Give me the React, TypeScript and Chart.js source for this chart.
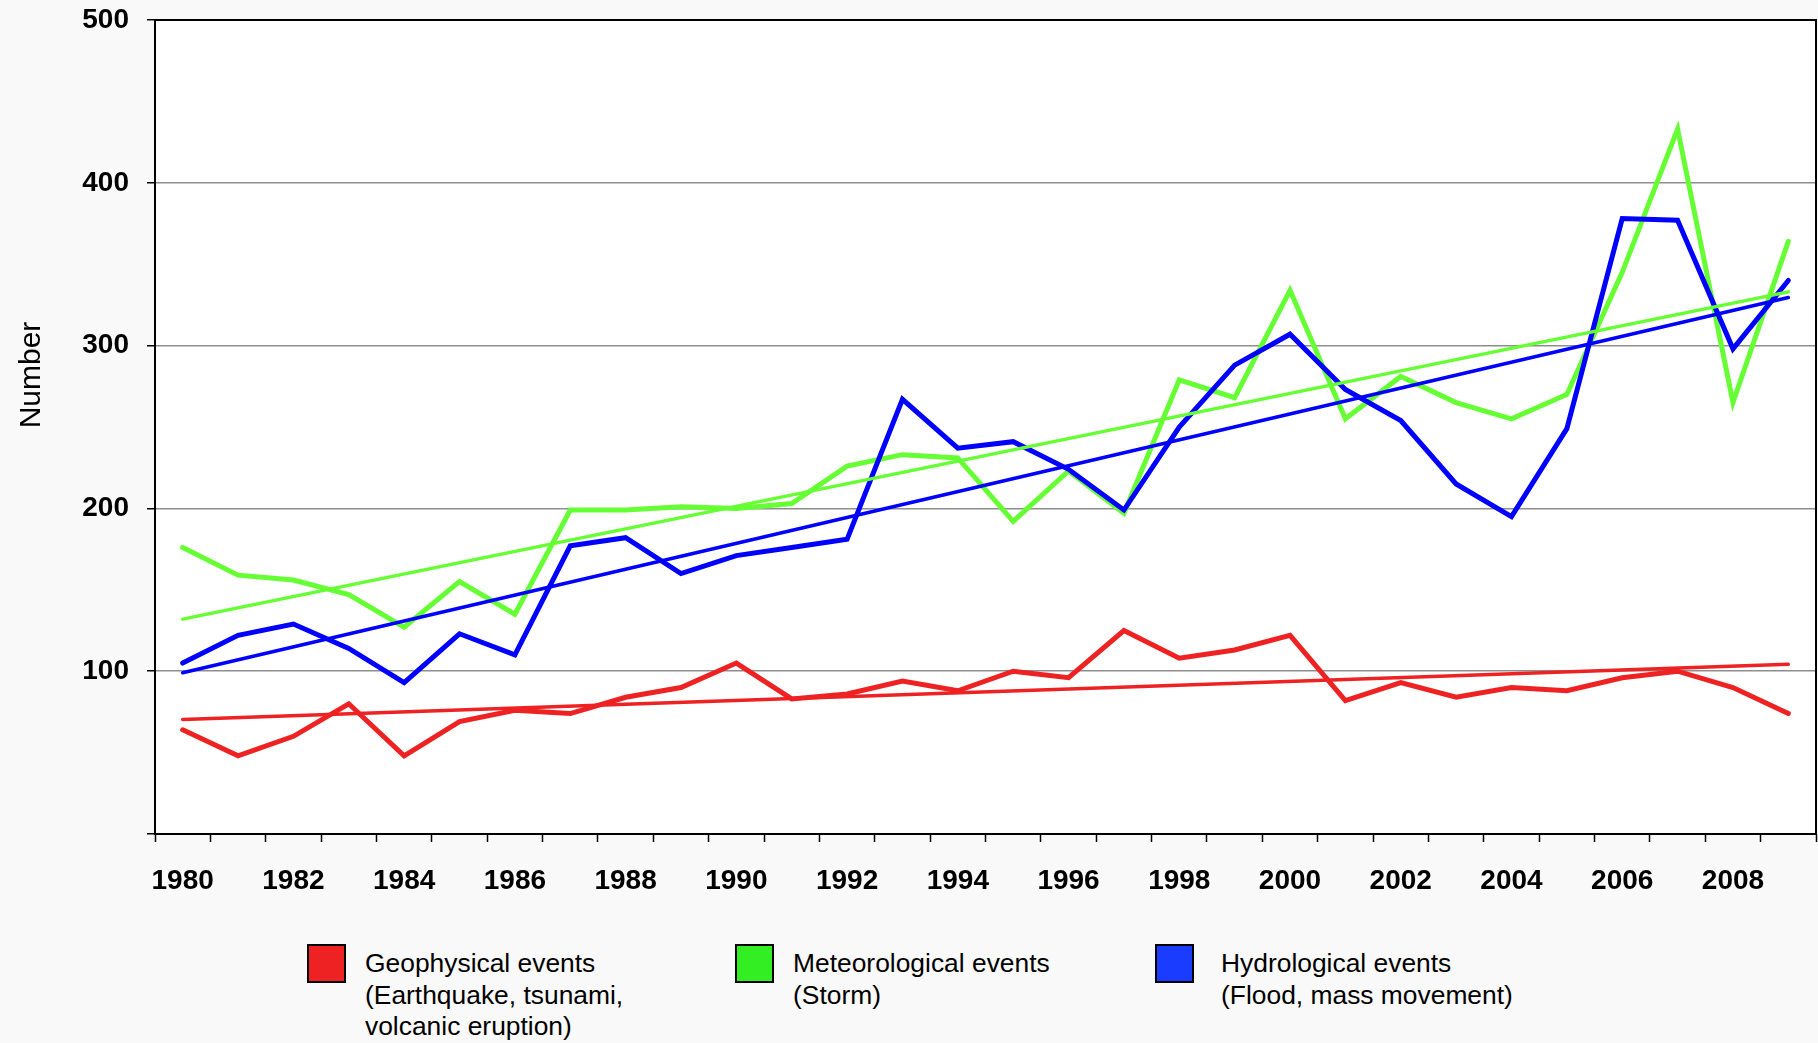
import { useEffect, useRef } from 'react';
import { Chart, registerables } from 'chart.js';

Chart.register(...registerables);

const years = [
  '1980', '1981', '1982', '1983', '1984', '1985', '1986', '1987', '1988', '1989',
  '1990', '1991', '1992', '1993', '1994', '1995', '1996', '1997', '1998', '1999',
  '2000', '2001', '2002', '2003', '2004', '2005', '2006', '2007', '2008', '2009',
];

const shownYearLabels = [
  '1980', '1982', '1984', '1986', '1988', '1990', '1992', '1994',
  '1996', '1998', '2000', '2002', '2004', '2006', '2008',
];

const geophysical = [
  64, 48, 60, 80, 48, 69, 76, 74, 84, 90,
  105, 83, 86, 94, 88, 100, 96, 125, 108, 113,
  122, 82, 93, 84, 90, 88, 96, 100, 90, 74,
];

const meteorological = [
  176, 159, 156, 147, 127, 155, 135, 199, 199, 201,
  200, 203, 226, 233, 231, 192, 223, 197, 279, 268,
  334, 255, 281, 265, 255, 270, 345, 433, 265, 364,
];

const hydrological = [
  105, 122, 129, 114, 93, 123, 110, 177, 182, 160,
  171, 176, 181, 267, 237, 241, 224, 199, 250, 288,
  307, 273, 254, 215, 195, 249, 378, 377, 298, 340,
];

// Trend lines: start (1980) and end (2009) values
const geophysicalTrend = [70.4, 104.3];
const meteorologicalTrend = [132, 333];
const hydrologicalTrend = [99, 329.5];

const yTickValues = [0, 100, 200, 300, 400, 500];
const yAxisTitle = 'Number';

const legendItems = [
  { color: '#ee2222', lines: ['Geophysical events', '(Earthquake, tsunami,', 'volcanic eruption)'] },
  { color: '#33ee22', lines: ['Meteorological events', '(Storm)'] },
  { color: '#1a3cff', lines: ['Hydrological events', '(Flood, mass movement)'] },
];

const RED = '#ee2222';
const GREEN = '#66ff33';
const BLUE = '#0000ff';
const FONT = "'Liberation Sans', Arial, Helvetica, sans-serif";

function trendSeries(pair: number[]) {
  return years.map((_, i) => (i === 0 ? pair[0] : i === years.length - 1 ? pair[1] : null));
}

const legendBoxLeft = [307, 735, 1155];
const legendTextLeft = [365, 793, 1221];

export default function App() {
  const canvasRef = useRef<HTMLCanvasElement | null>(null);

  useEffect(() => {
    const canvas = canvasRef.current;
    if (!canvas) return;

    const framePlugin = {
      id: 'framePlugin',
      beforeDraw(chart: any) {
        const { ctx, chartArea } = chart;
        ctx.save();
        ctx.fillStyle = '#ffffff';
        ctx.fillRect(chartArea.left, chartArea.top, chartArea.right - chartArea.left, chartArea.bottom - chartArea.top);
        ctx.restore();
      },
      afterDraw(chart: any) {
        const { ctx, chartArea } = chart;
        ctx.save();
        ctx.strokeStyle = '#000000';
        ctx.lineWidth = 2;
        ctx.strokeRect(chartArea.left, chartArea.top, chartArea.right - chartArea.left, chartArea.bottom - chartArea.top);
        ctx.translate(40, 375);
        ctx.rotate(-Math.PI / 2);
        ctx.font = `30px ${FONT}`;
        ctx.fillStyle = '#000000';
        ctx.textAlign = 'center';
        ctx.textBaseline = 'alphabetic';
        ctx.fillText(yAxisTitle, 0, 0);
        ctx.restore();
      },
    };

    const lineBase = {
      pointRadius: 0,
      pointHoverRadius: 0,
      tension: 0,
      fill: false,
      borderJoinStyle: 'miter' as const,
      borderCapStyle: 'round' as const,
    };

    const chart = new Chart(canvas, {
      type: 'line',
      data: {
        labels: years,
        datasets: [
          { ...lineBase, label: 'Geophysical trend', data: trendSeries(geophysicalTrend), borderColor: RED, borderWidth: 3.5, spanGaps: true, order: 1 },
          { ...lineBase, label: 'Meteorological trend', data: trendSeries(meteorologicalTrend), borderColor: GREEN, borderWidth: 3.5, spanGaps: true, order: 1 },
          { ...lineBase, label: 'Hydrological trend', data: trendSeries(hydrologicalTrend), borderColor: BLUE, borderWidth: 3.5, spanGaps: true, order: 1 },
          { ...lineBase, label: 'Hydrological events', data: hydrological, borderColor: BLUE, borderWidth: 5, order: 2 },
          { ...lineBase, label: 'Meteorological events', data: meteorological, borderColor: GREEN, borderWidth: 5, order: 3 },
          { ...lineBase, label: 'Geophysical events', data: geophysical, borderColor: RED, borderWidth: 5, order: 4 },
        ],
      },
      options: {
        animation: false,
        responsive: false,
        devicePixelRatio: 1,
        events: [],
        layout: { padding: { top: 20, right: 2, bottom: 0, left: 0 } },
        plugins: {
          legend: { display: false },
          tooltip: { enabled: false },
          title: { display: false },
        },
        scales: {
          x: {
            type: 'category',
            offset: true,
            afterFit: (scale: any) => {
              scale.height = 66;
              scale.paddingLeft = 0;
              scale.paddingRight = 0;
            },
            grid: {
              offset: true,
              drawOnChartArea: false,
              drawTicks: true,
              tickLength: 8,
              tickColor: '#000000',
              tickWidth: 1.5,
            },
            border: { display: false },
            ticks: {
              autoSkip: false,
              maxRotation: 0,
              minRotation: 0,
              padding: 22,
              color: '#000000',
              font: { family: FONT, size: 28, weight: 'bold' },
              callback: function (this: any, value: any) {
                const lbl = years[value as number];
                return shownYearLabels.includes(lbl) ? lbl : '';
              },
            },
          },
          y: {
            type: 'linear',
            min: yTickValues[0],
            max: yTickValues[yTickValues.length - 1],
            afterFit: (scale: any) => {
              scale.width = 155;
              scale.paddingTop = 0;
              scale.paddingBottom = 0;
            },
            afterBuildTicks: (scale: any) => { scale.ticks = yTickValues.map((v) => ({ value: v })); },
            grid: {
              color: '#8e8e8e',
              lineWidth: 1.5,
              drawTicks: true,
              tickLength: 8,
              tickColor: '#000000',
              tickWidth: 1.5,
            },
            border: { display: false },
            ticks: {
              padding: 18,
              color: '#000000',
              font: { family: FONT, size: 28, weight: 'bold' },
              callback: (value: any) => (value === 0 ? '' : String(value)),
            },
          },
        },
      },
      plugins: [framePlugin],
    });

    return () => { chart.destroy(); };
  }, []);

  return (
    <div style={{ position: 'fixed', left: 0, top: 0, width: 1818, height: 1043, background: '#f9f9f9', overflow: 'hidden' }}>
      <canvas ref={canvasRef} width={1818} height={900} style={{ position: 'absolute', left: 0, top: 0, width: 1818, height: 900, display: 'block' }} />
      {legendItems.map((item, i) => (
        <div key={i}>
          <div
            style={{
              position: 'absolute',
              left: legendBoxLeft[i],
              top: 944,
              width: 35,
              height: 35,
              background: item.color,
              border: '2px solid #000',
            }}
          />
          <div
            style={{
              position: 'absolute',
              left: legendTextLeft[i],
              top: 948,
              fontFamily: FONT,
              fontSize: 26.4,
              lineHeight: '31.5px',
              color: '#000',
              whiteSpace: 'nowrap',
            }}
          >
            {item.lines.map((l, j) => (
              <div key={j}>{l}</div>
            ))}
          </div>
        </div>
      ))}
    </div>
  );
}
